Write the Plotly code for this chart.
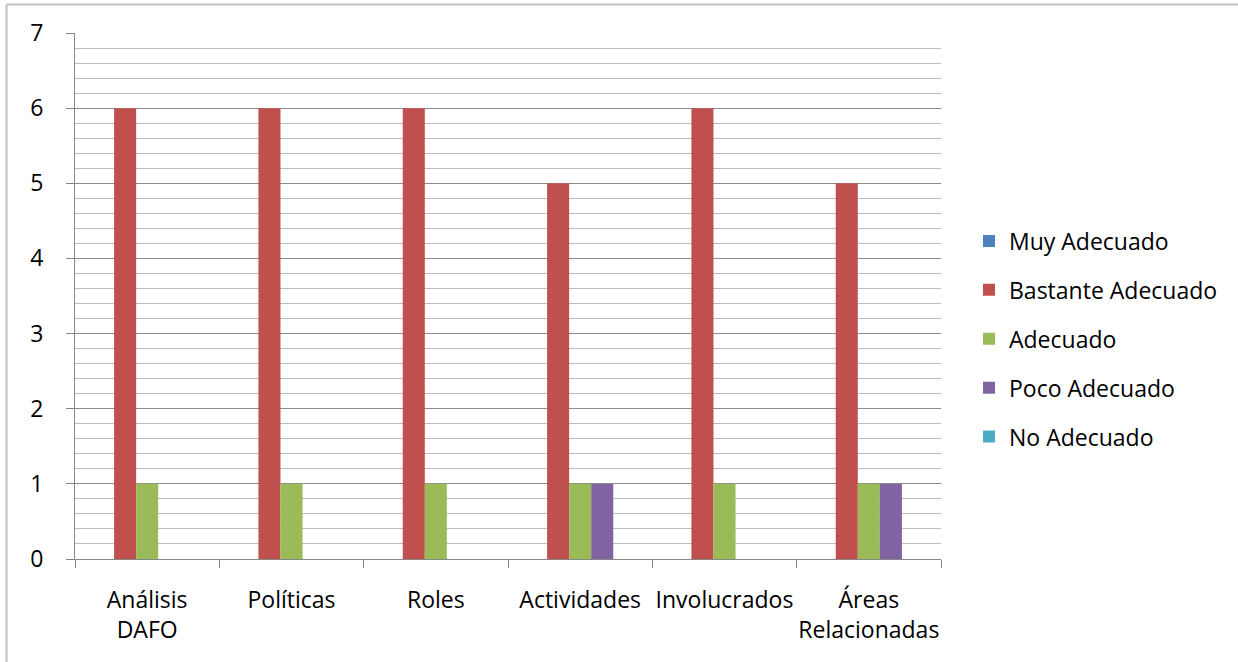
import plotly.graph_objects as go

categories = ["Análisis<br>DAFO", "Políticas", "Roles", "Actividades", "Involucrados", "Áreas<br>Relacionadas"]
series_names = ["Muy Adecuado", "Bastante Adecuado", "Adecuado", "Poco Adecuado", "No Adecuado"]
muy_adecuado = [0, 0, 0, 0, 0, 0]
bastante_adecuado = [6, 6, 6, 5, 6, 5]
adecuado = [1, 1, 1, 1, 1, 1]
poco_adecuado = [0, 0, 0, 1, 0, 1]
no_adecuado = [0, 0, 0, 0, 0, 0]
colors = ["#4F81BD", "#C0504D", "#9BBB59", "#8064A2", "#4BACC6"]

values = [muy_adecuado, bastante_adecuado, adecuado, poco_adecuado, no_adecuado]

FONT = "Open Sans"
FS = 23
W, H = 1238, 662
L, R, T, B = 75, 297, 33, 103
pw, ph = W - L - R, H - T - B

fig = go.Figure()
for name, vals, col in zip(series_names, values, colors):
    fig.add_trace(go.Bar(
        x=categories, y=vals, name=name, marker_color=col,
        marker_line_width=0, legendgroup=name,
    ))

axis_col = "#868686"
fig.update_layout(
    width=W, height=H,
    margin=dict(l=L, r=R, t=T, b=B, autoexpand=False),
    paper_bgcolor="white", plot_bgcolor="white",
    barmode="group", bargap=0.236, bargroupgap=0,
    font=dict(family=FONT, size=FS, color="#000000"),
    showlegend=True,
    legend=dict(
        x=(969 - L) / pw, xanchor="left",
        y=(559 - 339) / ph, yanchor="middle",
        font=dict(family=FONT, size=FS, color="#000000"),
        tracegroupgap=16, itemwidth=30,
        bgcolor="rgba(0,0,0,0)",
    ),
    xaxis=dict(
        type="category", showgrid=False, showline=True, linecolor=axis_col, linewidth=1,
        ticks="outside", tickson="boundaries", ticklen=8, tickcolor=axis_col,
        tickfont=dict(family=FONT, size=FS, color="#000000"),
        tickangle=0, ticklabelstandoff=20,
    ),
    yaxis=dict(
        range=[0, 7], dtick=1, tick0=0, showgrid=True, gridcolor="#8c8c8c", gridwidth=1,
        showline=True, linecolor=axis_col, linewidth=1, zeroline=False,
        ticks="outside", ticklen=8, tickcolor=axis_col,
        tickfont=dict(family=FONT, size=FS, color="#000000"),
        ticklabelstandoff=18,
        minor=dict(dtick=0.2, showgrid=True, gridcolor="#bcbcbc", gridwidth=1, ticks=""),
    ),
    shapes=[
        dict(type="line", xref="paper", yref="paper",
             x0=(6.5 - L) / pw, x1=(W + 5 - L) / pw, y0=(559 - 4.5) / ph, y1=(559 - 4.5) / ph,
             line=dict(color="#c0c0c0", width=2)),
        dict(type="line", xref="paper", yref="paper",
             x0=(6.5 - L) / pw, x1=(6.5 - L) / pw, y0=(559 - 4.5) / ph, y1=(559 - H - 5) / ph,
             line=dict(color="#c0c0c0", width=2)),
    ],
)

fig.write_html("out.html")
